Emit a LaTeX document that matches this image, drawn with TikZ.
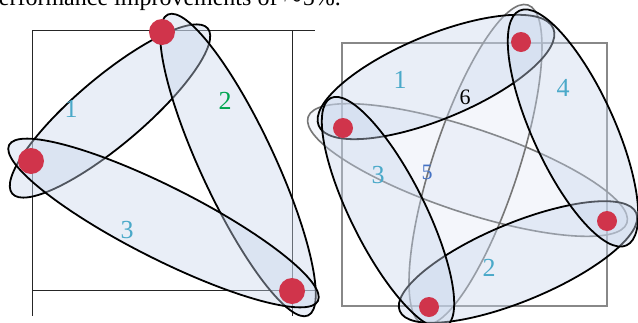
\documentclass[tikz,border=0pt]{standalone}
\usepackage{fontspec}
\setmainfont{Liberation Serif}
\usetikzlibrary{shapes.geometric}
\definecolor{hfill}{RGB}{200,214,236}
\definecolor{dotred}{RGB}{208,52,75}
\definecolor{labcyan}{RGB}{74,169,201}
\definecolor{labgreen}{RGB}{0,165,80}
\definecolor{labblue}{RGB}{68,114,196}
\definecolor{sqgray}{RGB}{136,136,136}
\definecolor{edgegray}{RGB}{118,118,118}
\tikzset{
  hedge/.style={ellipse, draw=black, line width=1.8pt, fill=hfill, fill opacity=0.4, inner sep=0pt},
  gedge/.style={ellipse, draw=edgegray, line width=1.6pt, fill=hfill, fill opacity=0.2, inner sep=0pt},
  bigdot/.style={circle, fill=dotred, inner sep=0pt, minimum size=26pt},
  smalldot/.style={circle, fill=dotred, inner sep=0pt, minimum size=20pt},
  lab/.style={inner sep=0pt, font=\fontsize{26}{26}\selectfont, text=labcyan},
  smlab/.style={inner sep=0pt, font=\fontsize{22}{22}\selectfont},
  thinline/.style={draw=black!85, line width=0.9pt},
}
\begin{document}
\begin{tikzpicture}[x=1pt,y=-1pt]
\useasboundingbox (0,0) rectangle (638,322);
\clip (0,0) rectangle (638,322);
\fill[white] (0,0) rectangle (638,322);
% clipped caption line at the top
\node[anchor=base east, inner sep=0pt, font=\fontsize{24}{24}\selectfont] (cap) at (341,5.5) {performance improvements of \ensuremath{\sim}5\%.};
% ---------- left panel ----------
\coordinate (la) at (32,30);
\coordinate (lb) at (315,30);
\coordinate (lc) at (32,316);
\coordinate (ld) at (292,30);
\coordinate (le) at (292,316);
\coordinate (lf) at (32,290);
\coordinate (lg) at (315,290);
\draw[thinline] (la) -- (lb);
\draw[thinline] (la) -- (lc);
\draw[thinline] (ld) -- (le);
\draw[thinline] (lf) -- (lg);
\node[hedge, minimum width=256pt, minimum height=68pt, rotate=40.2] (L1) at (110,111) {};
\node[hedge, minimum width=332pt, minimum height=74pt, rotate=-65] (L2) at (238,165) {};
\node[hedge, minimum width=346pt, minimum height=72pt, rotate=-26.8] (L3) at (163.5,223) {};
\node[lab] (l1) at (71,109) {1};
\node[lab, text=labgreen] (l2) at (225,101) {2};
\node[lab] (l3) at (127,230) {3};
\node[bigdot] (pa) at (162,32) {};
\node[bigdot] (pb) at (31,161) {};
\node[bigdot] (pc) at (292,291) {};
% ---------- right panel ----------
\draw[sqgray, line width=2.2pt] (342,43) rectangle (607,306);
\node[gedge, minimum width=336pt, minimum height=84pt, rotate=-18.4] (G6) at (467.5,170) {};
\node[gedge, minimum width=336pt, minimum height=86pt, rotate=71.8] (G5) at (475.5,164.6) {};
\node[hedge, minimum width=254pt, minimum height=84pt, rotate=22.5] (R1) at (436,77) {};
\node[hedge, minimum width=256pt, minimum height=78pt, rotate=22.5] (R2) at (518,262) {};
\node[hedge, minimum width=256pt, minimum height=74pt, rotate=-63.4] (R3) at (388,212.5) {};
\node[hedge, minimum width=258pt, minimum height=82pt, rotate=-65.5] (R4) at (573,128) {};
\node[lab] (r1) at (400,80) {1};
\node[smlab] (r6) at (465,97) {6};
\node[lab] (r4) at (563,88) {4};
\node[lab] (r3) at (378,175) {3};
\node[smlab, text=labblue] (r5) at (427,172) {5};
\node[lab] (r2) at (489,268) {2};
\node[smalldot] (qa) at (521,42) {};
\node[smalldot] (qb) at (343,128) {};
\node[smalldot] (qc) at (607,221) {};
\node[smalldot] (qd) at (429,307) {};
\end{tikzpicture}
\end{document}
